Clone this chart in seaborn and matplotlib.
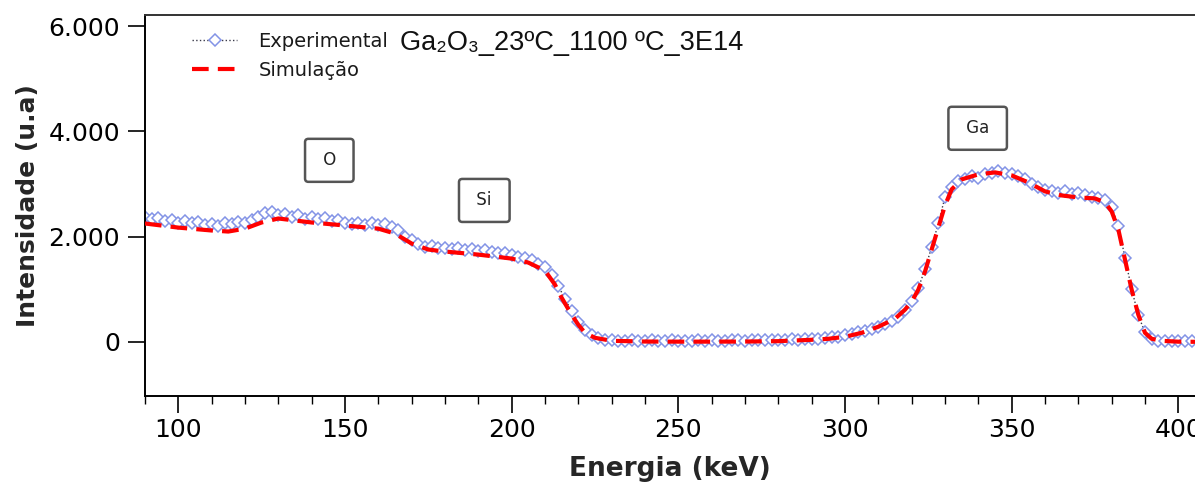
import numpy as np
import matplotlib
matplotlib.use("Agg")
import matplotlib.pyplot as plt
import matplotlib.ticker as mticker
import seaborn as sns
import pandas as pd

# ---------------- data ----------------
energia_exp = list(range(90, 406, 2))
intens_exp = [
    2380, 2330, 2350, 2290, 2310, 2260, 2300, 2250, 2270, 2220,
    2240, 2200, 2260, 2230, 2270, 2250, 2320, 2380, 2440, 2460,
    2410, 2430, 2380, 2400, 2340, 2370, 2330, 2350, 2300, 2320,
    2250, 2230, 2260, 2220, 2250, 2210, 2230, 2180, 2120, 2000,
    1930, 1850, 1800, 1820, 1780, 1790, 1760, 1780, 1740, 1760,
    1720, 1740, 1700, 1680, 1690, 1650, 1620, 1600, 1560, 1480,
    1420, 1260, 1060, 820, 580, 380, 220, 120, 70, 40,
    30, 20, 15, 25, 10, 20, 30, 15, 20, 25,
    10, 20, 15, 30, 20, 25, 15, 20, 30, 25,
    20, 35, 25, 30, 40, 30, 35, 45, 40, 45,
    50, 60, 70, 90, 100, 120, 140, 180, 210, 240,
    290, 330, 400, 470, 600, 770, 1020, 1380, 1800, 2250,
    2750, 2950, 3050, 3100, 3150, 3120, 3180, 3200, 3240, 3200,
    3180, 3150, 3100, 3000, 2950, 2890, 2870, 2830, 2860, 2800,
    2820, 2780, 2760, 2740, 2700, 2560, 2200, 1600, 1000, 500,
    180, 60, 20, 10, 15, 10, 20, 10,
]

energia_sim = [90, 100, 110, 115, 120, 125, 130, 135, 140, 150, 160, 165, 170,
               175, 180, 190, 200, 205, 210, 213, 215, 218, 220, 222, 225, 230,
               240, 250, 260, 270, 280, 290, 295, 300, 305, 310, 315, 318, 320,
               322, 324, 326, 328, 330, 332, 335, 340, 345, 350, 355, 360, 365,
               370, 375, 378, 380, 382, 384, 386, 388, 390, 392, 395, 400, 405]
intens_sim = [2248, 2170, 2115, 2095, 2150, 2267, 2343, 2305, 2267, 2210, 2150,
              2057, 1867, 1753, 1715, 1657, 1581, 1505, 1353, 1086, 838, 514,
              324, 171, 76, 19, 5, 3, 3, 5, 12, 38, 57, 95, 171, 286, 438, 610,
              762, 990, 1333, 1753, 2172, 2590, 2896, 3086, 3181, 3219, 3162,
              3029, 2858, 2781, 2743, 2724, 2648, 2477, 2134, 1562, 990, 514,
              171, 57, 19, 2, 0]

y_ticks = [0, 2000, 4000, 6000]
x_ticks = [100, 150, 200, 250, 300, 350, 400]
rotulos = ["O", "Si", "Ga"]
rotulos_x = [145.3, 191.8, 339.8]
rotulos_y = [3448, 2686, 4057]

df_exp = pd.DataFrame({"Energia": energia_exp, "Intensidade": intens_exp})
df_sim = pd.DataFrame({"Energia": energia_sim, "Intensidade": intens_sim})

# ---------------- figure ----------------
sns.set_theme(style="white")
plt.rcParams["font.family"] = ["DejaVu Sans"]

fig = plt.figure(figsize=(11.95, 4.84), dpi=100)
ax = fig.add_axes([0.1213, 0.1818, 0.8787, 0.7878])

exp_color = "#8393e6"
sns.lineplot(data=df_exp, x="Energia", y="Intensidade", ax=ax, sort=False,
             color="#3a3a4a", linestyle=":", linewidth=1.0,
             marker="D", markersize=6.5, markerfacecolor="white",
             markeredgecolor=exp_color, markeredgewidth=1.1,
             label="Experimental", zorder=2)
sns.lineplot(data=df_sim, x="Energia", y="Intensidade", ax=ax, sort=False,
             color="#ff0000", linestyle=(0, (4, 2.2)), linewidth=3.0,
             label="Simulação", zorder=3)

ax.set_xlim(90, 405)
ax.set_ylim(-1030, 6215)
ax.set_xticks(x_ticks)
ax.xaxis.set_minor_locator(mticker.MultipleLocator(10))
ax.set_yticks(y_ticks)
ax.yaxis.set_major_formatter(mticker.FuncFormatter(
    lambda v, p: f"{int(v):,}".replace(",", ".")))

ax.tick_params(axis="both", which="major", direction="out", length=12,
               width=1.2, color="black", labelsize=18, labelcolor="black",
               bottom=True, left=True)
ax.tick_params(axis="x", which="minor", direction="out", length=6,
               width=1.0, color="black", bottom=True)
ax.tick_params(axis="y", which="major", pad=6)
ax.tick_params(axis="x", which="major", pad=4)

for s in ["left", "bottom"]:
    ax.spines[s].set_color("black")
    ax.spines[s].set_linewidth(1.4)
ax.spines["top"].set_color("#333333")
ax.spines["top"].set_linewidth(1.4)
ax.spines["right"].set_visible(False)

ax.set_xlabel("Energia (keV)", fontsize=19, fontweight="bold", labelpad=10)
ax.set_ylabel("Intensidade (u.a)", fontsize=18, fontweight="bold", labelpad=6)

leg = ax.legend(loc="upper left", bbox_to_anchor=(0.045, 0.955),
                frameon=False, fontsize=14, handlelength=2.3,
                handletextpad=1.1, labelspacing=0.5, borderpad=0,
                borderaxespad=0)
for txt in leg.get_texts():
    txt.set_color("#1a1a1a")

ax.text(0.243, 0.925, "Ga₂O₃_23ºC_1100 ºC_3E14", transform=ax.transAxes,
        fontsize=19.5, family=["Liberation Sans", "DejaVu Sans"],
        va="center", ha="left", color="#111111")

for t, xx, yy in zip(rotulos, rotulos_x, rotulos_y):
    ax.text(xx, yy, f" {t} ", fontsize=12, ha="center", va="center",
            color="#222222",
            bbox=dict(boxstyle="round,pad=0.75,rounding_size=0.2",
                      fc="white", ec="#555555", lw=1.8))

fig.savefig("out.png", dpi=100)
